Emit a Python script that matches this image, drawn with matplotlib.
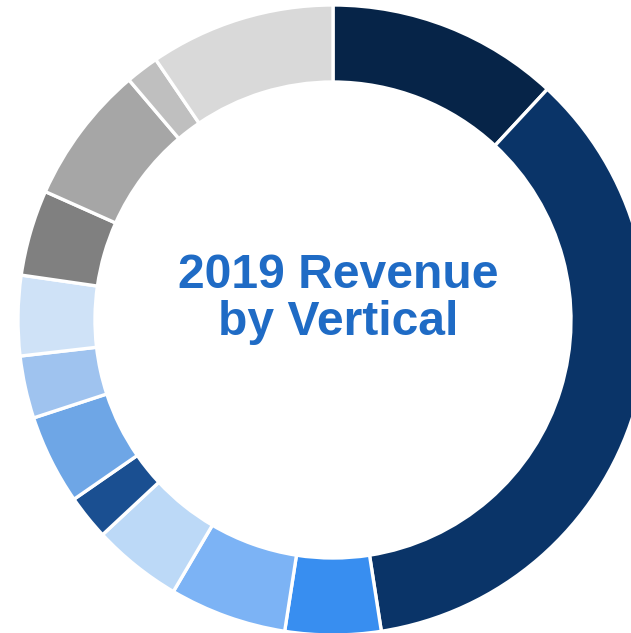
import matplotlib
matplotlib.use("Agg")
import matplotlib.pyplot as plt

# Share of 2019 revenue per vertical (percent, read from the ring), clockwise from top
verticals = ["V1", "V2", "V3", "V4", "V5", "V6", "V7", "V8", "V9", "V10", "V11", "V12", "V13"]
shares = [11.9, 35.6, 4.9, 6.0, 4.6, 2.3, 4.6, 3.2, 4.1, 4.4, 7.1, 1.7, 9.5]
colors = ["#062448", "#0a3468", "#388ef0", "#7cb3f5", "#bcd9f7", "#1a4f91",
          "#6ea6e6", "#9fc3ef", "#cfe2f7", "#808080", "#a6a6a6", "#bfbfbf", "#d9d9d9"]
title_lines = ["2019 Revenue", "by Vertical"]

W, H = 631, 633
cx, cy_top, R = 333, 320, 315
fig = plt.figure(figsize=(W / 100, H / 100), dpi=100)
ax = fig.add_axes([0, 0, 1, 1])
ax.pie(shares, colors=colors, startangle=90, counterclock=False, radius=1.0,
       wedgeprops=dict(width=77 / R, edgecolor="white", linewidth=2.4))
ax.set_xlim(-cx / R, (W - cx) / R)
ax.set_ylim(-(H - cy_top) / R, cy_top / R)
ax.set_aspect("auto")
ax.axis("off")

def py(pix_from_top):
    return (cy_top - pix_from_top) / R

tx = (338.5 - cx) / R
ax.text(tx, py(288), title_lines[0], ha="center", va="baseline", fontsize=34.6,
        fontweight="bold", color="#1f6bc5", family=["Liberation Sans", "DejaVu Sans"])
ax.text(tx, py(335), title_lines[1], ha="center", va="baseline", fontsize=34.6,
        fontweight="bold", color="#1f6bc5", family=["Liberation Sans", "DejaVu Sans"])

fig.savefig("out.png", dpi=100, facecolor="white")
